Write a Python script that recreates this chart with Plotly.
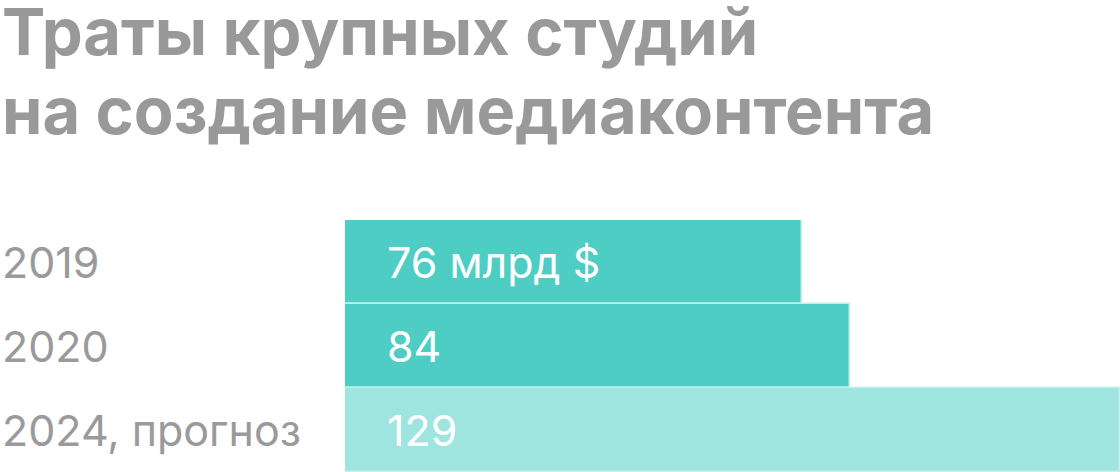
import plotly.graph_objects as go

# данные
years = ["2019", "2020", "2024, прогноз"]
spend = [76, 84, 129]
bar_text = ["76 млрд $", "84", "129"]
bar_colors = ["#4ecdc4", "#4ecdc4", "#9fe5df"]
title_lines = ["Траты крупных студий", "на создание медиаконтента"]

W, H = 1120, 472
ML, MT, MB = 345, 220, 0
plot_w = W - ML
plot_h = H - MT - MB


def py(px):
    # пиксель сверху -> координата paper
    return (H - MB - px) / plot_h


fig = go.Figure(go.Bar(
    x=spend, y=years, orientation="h",
    marker=dict(color=bar_colors, line=dict(color="#c4f0ec", width=1.5)),
    hoverinfo="skip",
))

ann = []
# заголовок
for i, line in enumerate(title_lines):
    ann.append(dict(
        text="<b>" + line + "</b>", xref="paper", yref="paper",
        x=-ML / plot_w, y=py(-10 + i * 79), xanchor="left", yanchor="top",
        showarrow=False, font=dict(family="Inter", size=65, color="#999999"),
    ))
# подписи слева и значения на столбцах
# (на категориальной оси "2019" читается как номер, поэтому берём индекс)
for i, (y, t) in enumerate(zip(years, bar_text)):
    ann.append(dict(
        text=y, xref="paper", yref="y", x=-ML / plot_w, y=i,
        xanchor="left", yanchor="middle", showarrow=False,
        font=dict(family="Inter", size=43, color="#9a9a9a"),
    ))
    ann.append(dict(
        text=t, xref="x", yref="y", x=0, y=i, xshift=40,
        xanchor="left", yanchor="middle", showarrow=False,
        font=dict(family="Inter", size=43, color="#ffffff"),
    ))

fig.update_layout(
    width=W, height=H,
    margin=dict(l=ML, r=0, t=MT, b=MB, pad=0),
    paper_bgcolor="white", plot_bgcolor="white",
    bargap=0, showlegend=False,
    xaxis=dict(range=[0, max(spend)], visible=False, fixedrange=True),
    yaxis=dict(type="category", categoryorder="array", categoryarray=years,
               range=[len(years) - 0.5, -0.5], visible=False,
               fixedrange=True),
    annotations=ann,
)

fig.write_html(
    "out.html",
    config={"displayModeBar": False},
    post_script="document.body.style.margin='0';"
                "document.body.style.overflow='hidden';",
)
